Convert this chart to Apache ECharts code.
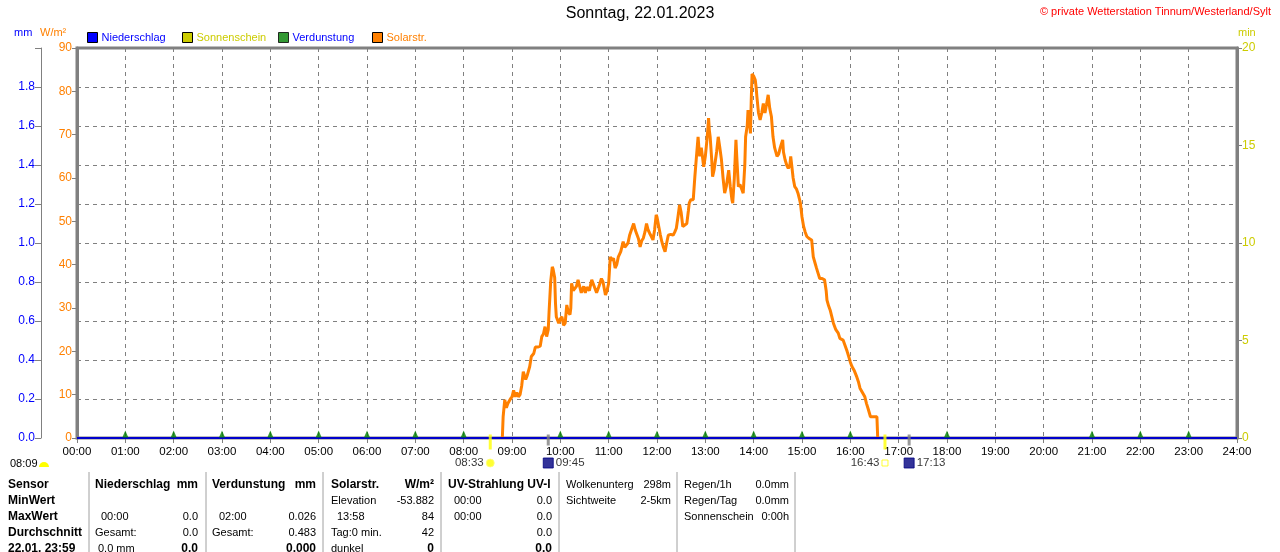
<!DOCTYPE html>
<html>
<head>
<meta charset="utf-8">
<title>Sonntag, 22.01.2023</title>
<script src="https://cdn.jsdelivr.net/npm/echarts@6/dist/echarts.min.js"></script>
<style>
  html, body { margin: 0; padding: 0; background: #fff; }
  #chart { width: 1280px; height: 552px; }
</style>
</head>
<body>
<div id="chart"></div>
<script>
// solar radiation (W/m²)
const solarTimes = [
  '08:48','08:49','08:51','08:53','08:55','08:58','09:00','09:02','09:04','09:06','09:08','09:10','09:12','09:14','09:17','09:19',
  '09:22','09:24','09:27','09:29','09:32','09:35','09:37','09:39','09:41','09:43','09:45','09:46','09:48','09:50','09:51','09:53',
  '09:54','09:55','09:58','10:00','10:02','10:04','10:06','10:08','10:10','10:12','10:13','10:14','10:16','10:18','10:20','10:22',
  '10:24','10:26','10:29','10:31','10:33','10:36','10:39','10:42','10:45','10:48','10:51','10:53','10:56','10:58','11:00','11:02',
  '11:04','11:06','11:08','11:10','11:12','11:15','11:18','11:20','11:22','11:24','11:26','11:28','11:31','11:33','11:35','11:37',
  '11:39','11:41','11:43','11:45','11:47','11:49','11:51','11:53','11:55','11:57','11:59','12:00','12:02','12:04','12:06','12:08',
  '12:10','12:12','12:14','12:17','12:20','12:22','12:24','12:26','12:28','12:30','12:32','12:34','12:37','12:39','12:40','12:42',
  '12:45','12:47','12:49','12:51','12:52','12:53','12:55','12:56','12:58','13:00','13:02','13:03','13:04','13:05','13:06','13:08',
  '13:09','13:11','13:12','13:14','13:16','13:18','13:20','13:22','13:24','13:26','13:29','13:31','13:33','13:34','13:36','13:38',
  '13:39','13:41','13:43','13:44','13:46','13:47','13:49','13:50','13:52','13:53','13:55','13:56','13:57','13:58','14:00','14:02',
  '14:03','14:04','14:06','14:08','14:10','14:12','14:14','14:16','14:18','14:20','14:22','14:24','14:26','14:29','14:31','14:33',
  '14:36','14:37','14:39','14:41','14:43','14:45','14:46','14:47','14:49','14:51','14:53','14:55','14:57','14:58','15:00','15:02',
  '15:04','15:06','15:09','15:12','15:14','15:16','15:18','15:20','15:22','15:25','15:28','15:30','15:31','15:33','15:35','15:37',
  '15:39','15:42','15:45','15:47','15:49','15:51','15:53','15:56','15:58','16:00','16:02','16:05','16:08','16:10','16:12','16:15',
  '16:18','16:20','16:22','16:25','16:29','16:33','16:34'
];
const solarValues = [
  0, 4.9, 8.8, 7.0, 8.0, 9.0, 9.5, 11.0, 9.5, 10.5, 9.5, 10.0, 12.0, 15.3, 13.5, 14.5,
  16.5, 18.8, 19.5, 21.0, 21.0, 21.2, 23.4, 24.0, 25.7, 23.4, 25.0, 29.0, 36.0, 39.5, 39.0, 37.0,
  31.0, 28.0, 26.5, 27.5, 28.0, 26.0, 26.5, 30.7, 29.0, 28.5, 30.0, 35.7, 34.0, 34.0, 35.0, 36.5,
  35.0, 33.5, 35.0, 33.5, 34.8, 34.0, 36.5, 35.0, 33.5, 35.0, 36.8, 36.0, 33.0, 34.0, 35.7, 41.8,
  41.0, 41.5, 39.2, 40.0, 41.8, 43.0, 45.3, 44.0, 44.1, 45.0, 46.8, 47.0, 49.5, 48.0, 47.6, 46.0,
  44.1, 45.5, 46.1, 47.5, 49.5, 48.0, 47.2, 46.5, 45.7, 48.0, 51.5, 51.0, 49.0, 47.0, 45.3, 44.0,
  43.0, 45.0, 46.8, 47.0, 46.8, 47.5, 48.4, 51.0, 53.8, 52.0, 48.8, 48.5, 49.5, 52.5, 54.2, 55.0,
  55.0, 60.3, 65.0, 69.5, 67.0, 65.0, 67.0, 67.0, 62.6, 65.0, 68.8, 71.0, 73.8, 71.0, 69.5, 64.0,
  60.3, 62.0, 63.4, 66.0, 69.5, 67.0, 64.2, 60.0, 56.5, 58.0, 61.8, 58.0, 55.0, 54.2, 60.0, 68.8,
  65.0, 58.0, 58.5, 58.0, 57.0, 56.5, 63.0, 69.5, 72.0, 75.7, 73.0, 70.3, 78.0, 84.0, 83.5, 82.6,
  81.0, 78.8, 75.0, 73.4, 75.0, 77.2, 75.0, 77.0, 79.2, 76.0, 74.2, 69.5, 67.0, 65.0, 65.5, 67.0,
  68.8, 66.0, 64.2, 63.0, 62.2, 63.0, 65.0, 65.0, 60.0, 58.0, 57.5, 56.5, 55.0, 54.2, 51.0, 48.8,
  47.5, 46.5, 46.0, 45.7, 41.8, 40.5, 39.2, 38.0, 36.8, 36.8, 36.5, 34.0, 31.8, 30.5, 29.5, 28.0,
  26.5, 25.0, 24.2, 23.0, 22.6, 22.6, 22.6, 20.0, 18.8, 17.5, 16.5, 15.5, 14.1, 13.0, 11.5, 10.5,
  9.5, 8.0, 6.8, 4.9, 4.9, 4.9, 0
];

// precipitation (mm), hourly
const rainTimes = ['00:00','01:00','02:00','03:00','04:00','05:00','06:00','07:00','08:00','09:00','10:00','11:00','12:00',
  '13:00','14:00','15:00','16:00','17:00','18:00','19:00','20:00','21:00','22:00','23:00','24:00'];
const rainValues = [0,0,0,0,0,0,0,0,0,0,0,0,0,0,0,0,0,0,0,0,0,0,0,0,0];

// evaporation markers (mm)
const evapTimes = ['01:00','02:00','03:00','04:00','05:00','06:00','07:00','08:00','10:00','11:00','12:00',
  '13:00','14:00','15:00','16:00','18:00','21:00','22:00','23:00'];
const evapValues = [0,0,0,0,0,0,0,0,0,0,0,0,0,0,0,0,0,0,0];

// sun / moon events
const eventTimes = ['08:33','09:45','16:43','17:13'];
const eventKinds = ['sunrise','moonrise','sunset','moonset'];

// axis ticks
const hourTicks = { min: 0, max: 24, step: 1 };
const wmTicks = { min: 0, max: 90, step: 10 };
const mmTicks = { min: 0, max: 2, step: 0.2 };
const minTicks = { min: 0, max: 20, step: 5 };

const FONT = '"Liberation Sans", Arial, sans-serif';
const GREY = '#808080';
const BLUE = '#0000FF';
const ORANGE = '#FF8000';
const OLIVE = '#CCCC00';
const GREEN = '#008000';

function toHours(t) {
  const p = t.split(':');
  return Number(p[0]) + Number(p[1]) / 60;
}
function pair(times, values) {
  return times.map((t, i) => [toHours(t), values[i]]);
}

const eventStyle = {
  sunrise:  { symbol: 'circle', size: 8, color: '#FFFF00', border: '#FFFF80', pos: 'left', bar: '#FFFF00' },
  moonrise: { symbol: 'rect', size: 10, color: '#000080', border: '#000080', pos: 'right', bar: GREY },
  sunset:   { symbol: 'rect', size: 6, color: '#FFFFFF', border: '#FFFF00', pos: 'left', bar: '#FFFF00' },
  moonset:  { symbol: 'rect', size: 10, color: '#000080', border: '#000080', pos: 'right', bar: GREY }
};

// legend entries: name, text colour, left position
const legendNames = ['Niederschlag', 'Sonnenschein', 'Verdunstung', 'Solarstr.'];
const legendColors = [BLUE, OLIVE, BLUE, ORANGE];
const legendLeft = [87, 182, 278, 372];

// table under the chart
const tableSeparators = [89, 206, 323, 441, 559, 677, 795];
const tableCells = [
  [0, 8, 'Sensor', 'left', 1], [0, 95, 'Niederschlag', 'left', 1], [0, 198, 'mm', 'right', 1],
  [0, 212, 'Verdunstung', 'left', 1], [0, 316, 'mm', 'right', 1], [0, 331, 'Solarstr.', 'left', 1],
  [0, 434, 'W/m²', 'right', 1], [0, 448, 'UV-Strahlung UV-I', 'left', 1], [0, 566, 'Wolkenunterg', 'left', 0],
  [0, 671, '298m', 'right', 0], [0, 684, 'Regen/1h', 'left', 0], [0, 789, '0.0mm', 'right', 0],
  [1, 8, 'MinWert', 'left', 1], [1, 331, 'Elevation', 'left', 0], [1, 434, '-53.882', 'right', 0],
  [1, 454, '00:00', 'left', 0], [1, 552, '0.0', 'right', 0], [1, 566, 'Sichtweite', 'left', 0],
  [1, 671, '2-5km', 'right', 0], [1, 684, 'Regen/Tag', 'left', 0], [1, 789, '0.0mm', 'right', 0],
  [2, 8, 'MaxWert', 'left', 1], [2, 101, '00:00', 'left', 0], [2, 198, '0.0', 'right', 0],
  [2, 219, '02:00', 'left', 0], [2, 316, '0.026', 'right', 0], [2, 337, '13:58', 'left', 0],
  [2, 434, '84', 'right', 0], [2, 454, '00:00', 'left', 0], [2, 552, '0.0', 'right', 0],
  [2, 684, 'Sonnenschein', 'left', 0], [2, 789, '0:00h', 'right', 0],
  [3, 8, 'Durchschnitt', 'left', 1], [3, 95, 'Gesamt:', 'left', 0], [3, 198, '0.0', 'right', 0],
  [3, 212, 'Gesamt:', 'left', 0], [3, 316, '0.483', 'right', 0], [3, 331, 'Tag:0 min.', 'left', 0],
  [3, 434, '42', 'right', 0], [3, 552, '0.0', 'right', 0],
  [4, 8, '22.01. 23:59', 'left', 1], [4, 98, '0.0 mm', 'left', 0], [4, 198, '0.0', 'right', 1],
  [4, 316, '0.000', 'right', 1], [4, 331, 'dunkel', 'left', 0], [4, 434, '0', 'right', 1],
  [4, 552, '0.0', 'right', 1]
];

function txt(x, y, text, color, size, opts) {
  opts = opts || {};
  return {
    type: 'text', x: x, y: y, silent: true,
    style: {
      text: text, fill: color,
      font: (opts.bold ? 'bold ' : '') + size + 'px ' + FONT,
      align: opts.align || 'left', verticalAlign: 'middle'
    }
  };
}

const graphics = [
  { type: 'text', left: 'center', top: 6, silent: true,
    style: { text: 'Sonntag, 22.01.2023', fill: '#000', font: '16px ' + FONT } },
  txt(1271, 12, '© private Wetterstation Tinnum/Westerland/Sylt', '#FF0000', 11, { align: 'right' }),
  txt(14, 33, 'mm', BLUE, 11),
  txt(40, 33, 'W/m²', ORANGE, 11),
  txt(1238, 33, 'min', OLIVE, 11),
  txt(10, 464, '08:09', '#000', 11),
  { type: 'sector', silent: true, shape: { cx: 44, cy: 467, r0: 0, r: 5, startAngle: Math.PI, endAngle: 2 * Math.PI },
    style: { fill: '#FFFF00' } }
];
tableSeparators.forEach(x => {
  graphics.push({ type: 'line', silent: true, shape: { x1: x, y1: 472, x2: x, y2: 552 },
    style: { stroke: '#A0A0A0', lineWidth: 1 } });
});
tableCells.forEach(c => {
  const bold = c[4] === 1;
  graphics.push(txt(c[1], 485 + c[0] * 16, c[2], '#000', bold ? 12 : 11, { align: c[3], bold: bold }));
});

const chart = echarts.init(document.getElementById('chart'), null, { renderer: 'canvas' });

const option = {
  animation: false,
  backgroundColor: '#fff',
  textStyle: { fontFamily: FONT },
  legend: legendNames.map((n, i) => ({
    left: legendLeft[i], top: 32, padding: 0,
    itemWidth: 10, itemHeight: 10, itemGap: 4,
    icon: 'rect',
    selectedMode: false,
    itemStyle: { borderColor: '#000', borderWidth: 1 },
    textStyle: { fontSize: 11, color: legendColors[i], fontFamily: FONT, padding: [0, 0, 0, -1] },
    data: [n]
  })),
  grid: {
    left: 77, right: 43, top: 48, bottom: 114,
    show: true, borderColor: GREY, borderWidth: 3, backgroundColor: 'transparent'
  },
  xAxis: {
    type: 'value',
    min: hourTicks.min, max: hourTicks.max, interval: hourTicks.step,
    axisLine: { show: true, lineStyle: { color: GREY, width: 2 } },
    axisTick: { show: true, length: 5, lineStyle: { color: GREY } },
    axisLabel: {
      color: '#000', fontSize: 11.5, margin: 8, fontFamily: FONT,
      formatter: v => String(v).padStart(2, '0') + ':00'
    },
    splitLine: { show: true, lineStyle: { color: GREY, type: [4, 4], width: 1 } }
  },
  yAxis: [
    {
      type: 'value', position: 'left',
      min: wmTicks.min, max: wmTicks.max, interval: wmTicks.step,
      axisLine: { show: true, lineStyle: { color: GREY, width: 3 } },
      axisTick: { show: true, length: 5, lineStyle: { color: GREY } },
      axisLabel: { color: ORANGE, fontSize: 12, margin: 5, fontFamily: FONT },
      splitLine: { show: false }
    },
    {
      type: 'value', position: 'left', offset: 36,
      min: mmTicks.min, max: mmTicks.max, interval: mmTicks.step,
      axisLine: { show: true, lineStyle: { color: GREY, width: 1 } },
      axisTick: { show: true, length: 6, lineStyle: { color: GREY } },
      axisLabel: {
        color: BLUE, fontSize: 12, margin: 6, fontFamily: FONT,
        formatter: v => (Math.abs(v - mmTicks.max) < 1e-9 ? '' : v.toFixed(1))
      },
      splitLine: { show: true, lineStyle: { color: GREY, type: [4, 4], width: 1 } }
    },
    {
      type: 'value', position: 'right',
      min: minTicks.min, max: minTicks.max, interval: minTicks.step,
      axisLine: { show: true, lineStyle: { color: GREY, width: 3 } },
      axisTick: { show: true, length: 5, lineStyle: { color: GREY } },
      axisLabel: { color: OLIVE, fontSize: 12, margin: 5, fontFamily: FONT },
      splitLine: { show: false }
    }
  ],
  series: [
    {
      name: 'Niederschlag', type: 'line', yAxisIndex: 1,
      data: pair(rainTimes, rainValues),
      showSymbol: false, symbol: 'none', color: BLUE,
      lineStyle: { color: '#0000CC', width: 2 }, z: 4
    },
    {
      name: 'Sonnenschein', type: 'line', yAxisIndex: 2, data: [],
      color: OLIVE, symbol: 'none'
    },
    {
      name: 'Verdunstung', type: 'scatter', yAxisIndex: 1,
      data: pair(evapTimes, evapValues),
      symbol: 'triangle', symbolSize: [6, 7], symbolOffset: [0, -4],
      itemStyle: { color: GREEN }, color: GREEN, clip: false, z: 5
    },
    {
      name: 'Solarstr.', type: 'line', yAxisIndex: 0,
      data: pair(solarTimes, solarValues),
      showSymbol: false, symbol: 'none', color: ORANGE,
      lineStyle: { color: ORANGE, width: 3 }, z: 3
    },
    {
      name: 'marks', type: 'scatter', yAxisIndex: 0, clip: false, silent: true, z: 6,
      data: eventTimes.map((t, i) => {
        const s = eventStyle[eventKinds[i]];
        const sun = s.bar !== GREY;
        return {
          value: [toHours(t), 0],
          symbol: 'rect',
          symbolSize: sun ? [3, 15] : [3, 11],
          symbolOffset: sun ? [0, 4] : [0, 2],
          itemStyle: { color: s.bar }
        };
      })
    },
    {
      name: 'events', type: 'scatter', yAxisIndex: 0, clip: false, silent: true, z: 6,
      data: eventTimes.map((t, i) => {
        const s = eventStyle[eventKinds[i]];
        return {
          value: [toHours(t), 0],
          symbol: s.symbol, symbolSize: s.size, symbolOffset: [0, 25],
          itemStyle: { color: s.color, borderColor: s.border, borderWidth: 1 },
          label: {
            show: true, position: s.pos, distance: 2, formatter: t,
            color: '#000', fontSize: 11.5, fontFamily: FONT
          }
        };
      })
    }
  ],
  graphic: graphics
};

chart.setOption(option);
</script>
</body>
</html>
